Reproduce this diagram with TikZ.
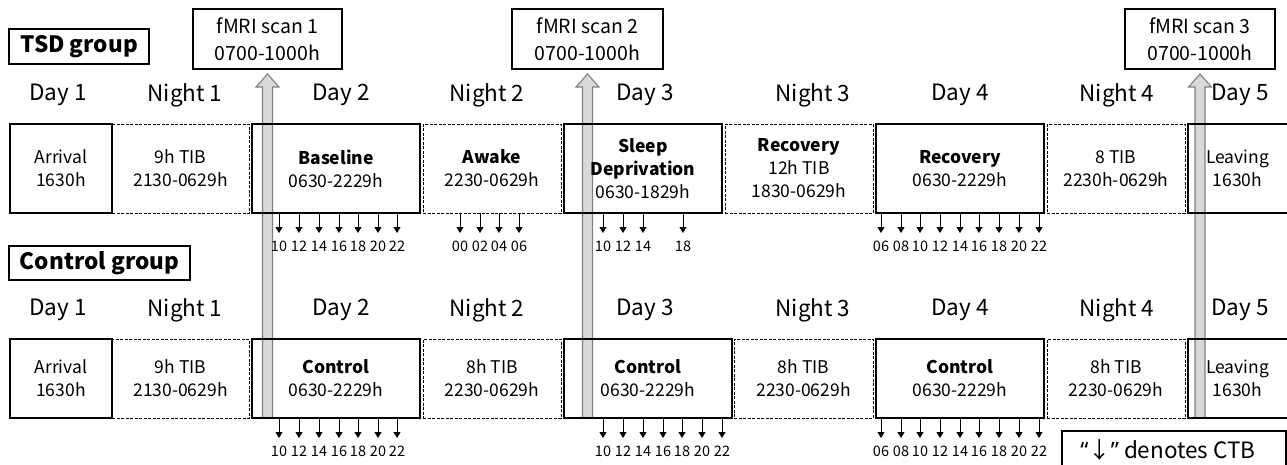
\documentclass[tikz,border=0pt]{standalone}
\usepackage{fontspec}
\setmainfont{Noto Sans CJK SC}
\newfontfamily\latinq{Noto Sans}
\usetikzlibrary{arrows.meta,calc}
\definecolor{scanfill}{HTML}{D9D9D9}
\definecolor{scanline}{HTML}{7F7F7F}
\tikzset{
  every node/.style={inner sep=0pt, outer sep=0pt},
  boxtext/.style={align=center, font=\fontsize{17.5}{23}\selectfont},
  solidbox/.style={boxtext, draw, line width=1.2pt},
  dashbox/.style={boxtext, draw, line width=1pt, dash pattern=on 3pt off 1.5pt},
  openbox/.style={boxtext},
  daylab/.style={font=\fontsize{22.5}{27}\selectfont},
  grouplab/.style={draw, line width=1.2pt, font=\fontsize{22.5}{27}\selectfont\bfseries},
  scanbox/.style={draw, line width=1.2pt, align=center, font=\fontsize{19.5}{27}\selectfont},
  scanarrow/.style={fill=scanfill, draw=scanline, line width=1.1pt},
  tick/.style={line width=0.9pt, -{Triangle[length=6pt,width=7pt]}},
  ticklab/.style={font=\fontsize{14.5}{16}\selectfont},
  legend/.style={font=\fontsize{22.5}{26}\selectfont}
}
\newcommand\BX[7]{\node[#1, minimum width={(#4)-(#3)}, minimum height={(#6)-(#5)}] (#2) at ({((#3)+(#4))/2},{((#5)+(#6))/2}) {#7};}
\newcommand\ctbticks[2]{\foreach \x/\l in {#2} {\coordinate (c) at (\x,0); \draw[tick] (c |- #1.south) -- ++(0,20); \node[ticklab] at ($(c |- #1.south)+(0,33)$) {\l};}}
\begin{document}
\begin{tikzpicture}[x=1pt, y=-1pt]
\useasboundingbox (0,0) rectangle (1287,464);

% group labels
\BX{grouplab}{tsd}{9}{149}{29}{64}{TSD group}
\BX{grouplab}{ctl}{9}{190}{246}{280}{Control group}

% fMRI scan boxes
\BX{scanbox}{s1}{193}{342}{9}{69}{fMRI scan 1\\0700-1000h}
\BX{scanbox}{s2}{512}{663}{9}{69}{fMRI scan 2\\0700-1000h}
\BX{scanbox}{s3}{1125}{1275}{9}{69}{fMRI scan 3\\0700-1000h}

% scan arrows (shaft down to bottom row)
\foreach \s in {s1,s2,s3}{
  \draw[scanarrow] ($(\s.south)+(0,5)$) -- ++(11.5,13) -- ++(-6.5,0) -- ++(0,331) -- ++(-10,0) -- ++(0,-331) -- ++(-6.5,0) -- cycle;
}

% day labels
\foreach \y/\r in {95/t,310/b}{
  \node[daylab] (\r L1) at (58,\y) {Day 1};
  \node[daylab] (\r L2) at (185,\y) {Night 1};
  \node[daylab] (\r L3) at (341,\y) {Day 2};
  \node[daylab] (\r L4) at (487,\y) {Night 2};
  \node[daylab] (\r L5) at (645,\y) {Day 3};
  \node[daylab] (\r L6) at (813,\y) {Night 3};
  \node[daylab] (\r L7) at (960,\y) {Day 4};
  \node[daylab] (\r L8) at (1117,\y) {Night 4};
  \node[daylab] (\r L9) at (1240,\y) {Day 5};
}

% TSD row
\BX{solidbox}{tA}{10}{112}{124}{213}{Arrival\\1630h}
\BX{dashbox}{tN1}{112}{249}{124}{213}{9h TIB\\2130-0629h}
\BX{solidbox}{tD2}{252}{420}{124}{213}{\textbf{Baseline}\\0630-2229h}
\BX{dashbox}{tN2}{423}{561}{124}{213}{\textbf{Awake}\\2230-0629h}
\BX{solidbox}{tD3}{564}{722}{124}{213}{\textbf{Sleep}\\\textbf{Deprivation}\\0630-1829h}
\BX{dashbox}{tN3}{725}{873}{124}{213}{\textbf{Recovery}\\12h TIB\\1830-0629h}
\BX{solidbox}{tD4}{876}{1044}{124}{213}{\textbf{Recovery}\\0630-2229h}
\BX{dashbox}{tN4}{1047}{1185}{124}{213}{8 TIB\\2230h-0629h}
\BX{openbox}{tD5}{1188}{1287}{124}{213}{Leaving\\1630h}
\draw[line width=1.2pt] (tD5.north east) -- (tD5.north west) -- (tD5.south west) -- (tD5.south east);

% Control row
\BX{solidbox}{bA}{10}{112}{339}{418}{Arrival\\1630h}
\BX{dashbox}{bN1}{112}{249}{339}{418}{9h TIB\\2130-0629h}
\BX{solidbox}{bD2}{252}{420}{339}{418}{\textbf{Control}\\0630-2229h}
\BX{dashbox}{bN2}{423}{561}{339}{418}{8h TIB\\2230-0629h}
\BX{solidbox}{bD3}{564}{732}{339}{418}{\textbf{Control}\\0630-2229h}
\BX{dashbox}{bN3}{734}{873}{339}{418}{8h TIB\\2230-0629h}
\BX{solidbox}{bD4}{876}{1044}{339}{418}{\textbf{Control}\\0630-2229h}
\BX{dashbox}{bN4}{1047}{1185}{339}{418}{8h TIB\\2230-0629h}
\BX{openbox}{bD5}{1188}{1287}{339}{418}{Leaving\\1630h}
\draw[line width=1.2pt] (bD5.north east) -- (bD5.north west) -- (bD5.south west) -- (bD5.south east);

% CTB ticks
\ctbticks{tD2}{279/10,299/12,319/14,339/16,358/18,378/20,397/22}
\ctbticks{tN2}{460/00,480/02,499/04,519/06}
\ctbticks{tD3}{603/10,623/12,643/14,683/18}
\ctbticks{tD4}{881/06,901/08,920/10,940/12,960/14,979/16,999/18,1019/20,1039/22}
\ctbticks{bD2}{279/10,299/12,319/14,339/16,358/18,378/20,397/22}
\ctbticks{bD3}{603/10,623/12,643/14,663/16,682/18,702/20,722/22}
\ctbticks{bD4}{881/06,901/08,920/10,940/12,960/14,979/16,999/18,1019/20,1039/22}

% legend
\node[legend] (leg) at (1168,450) {{\latinq “}↓{\latinq ”} denotes CTB};
\draw[line width=1.2pt] (1062,466) -- (1062,431) -- (1286,431) -- (1286,466);
\end{tikzpicture}
\end{document}
